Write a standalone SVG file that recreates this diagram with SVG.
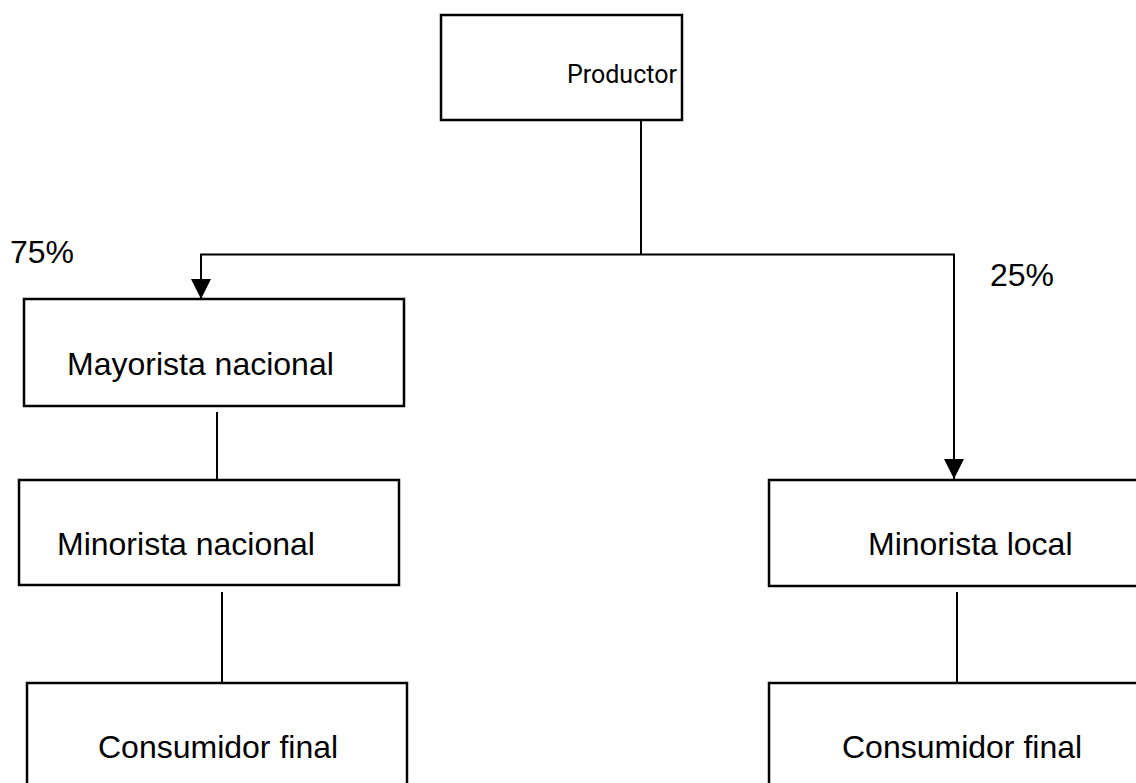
<svg xmlns="http://www.w3.org/2000/svg" width="1136" height="783" viewBox="0 0 1136 783">
<style>
.box{fill:#fff;stroke:#000;stroke-width:2.5}
.t{font-family:"Liberation Sans",Arial,sans-serif;font-size:32px;fill:#000}
.tp{font-family:Roboto,"Liberation Sans",sans-serif;font-size:25px;fill:#000}
.ln{stroke:#000;stroke-width:2;fill:none}
</style>
<defs>
<marker id="arr" viewBox="0 0 10 10" refX="10" refY="5" markerWidth="20" markerHeight="20" markerUnits="userSpaceOnUse" orient="auto">
<path d="M0,0 L10,5 L0,10 Z" fill="#000"/>
</marker>
</defs>
<rect width="1136" height="783" fill="#fff"/>
<g id="connectors">
<line class="ln" x1="641" y1="120" x2="641" y2="254.5"/>
<line class="ln" x1="200" y1="254.5" x2="955" y2="254.5"/>
<line class="ln" x1="201" y1="254" x2="201" y2="299" marker-end="url(#arr)"/>
<line class="ln" x1="954" y1="254" x2="954" y2="479" marker-end="url(#arr)"/>
<line class="ln" x1="217" y1="412" x2="217" y2="480"/>
<line class="ln" x1="222" y1="592" x2="222" y2="683"/>
<line class="ln" x1="957" y1="592" x2="957" y2="683"/>
</g>
<g id="label-75"><text class="t" x="10" y="263">75%</text></g>
<g id="label-25"><text class="t" x="990" y="286">25%</text></g>
<g id="productor">
<rect class="box" x="441" y="15" width="241" height="105"/>
<text class="tp" x="567" y="83">Productor</text>
</g>
<g id="mayorista-nacional">
<rect class="box" x="24" y="299" width="380" height="107"/>
<text class="t" x="67" y="375">Mayorista nacional</text>
</g>
<g id="minorista-nacional">
<rect class="box" x="19" y="480" width="380" height="105"/>
<text class="t" x="57" y="555">Minorista nacional</text>
</g>
<g id="consumidor-final-1">
<rect class="box" x="27" y="683" width="380" height="120"/>
<text class="t" x="98" y="758">Consumidor final</text>
</g>
<g id="minorista-local">
<rect class="box" x="769" y="480" width="380" height="106"/>
<text class="t" x="868" y="555">Minorista local</text>
</g>
<g id="consumidor-final-2">
<rect class="box" x="769" y="683" width="380" height="120"/>
<text class="t" x="842" y="758">Consumidor final</text>
</g>
</svg>
